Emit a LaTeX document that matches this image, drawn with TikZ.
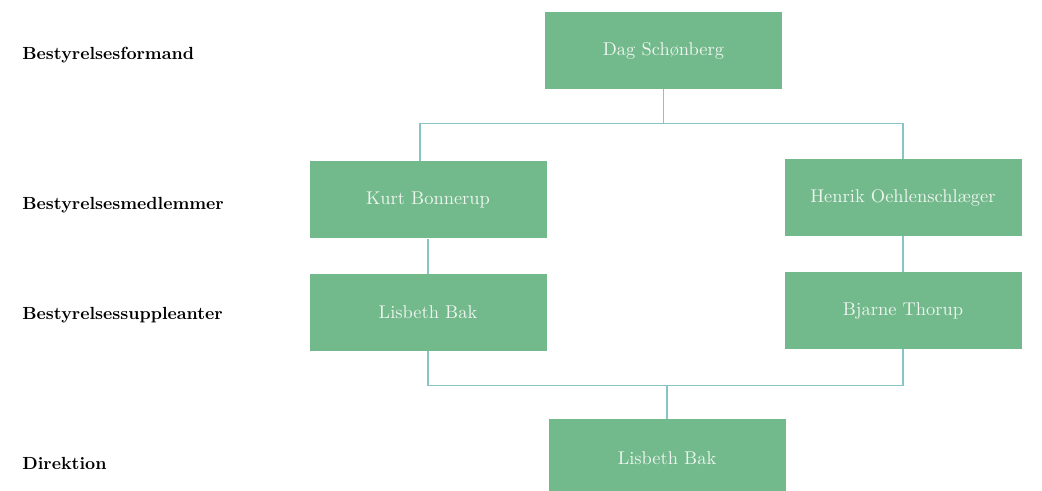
\documentclass[tikz,border=0pt]{standalone}
\usepackage{xcolor}
\definecolor{boardgreen}{HTML}{72B98C}
\definecolor{linkteal}{HTML}{86C4C6}
\definecolor{nametext}{HTML}{EEF5EF}
\begin{document}
\begin{tikzpicture}[
    member/.style={fill=boardgreen, draw=none, minimum width=4.74cm, minimum height=1.54cm,
        text=nametext, font=\fontsize{10.5}{12}\selectfont},
    rolelabel/.style={anchor=west, inner sep=0pt, font=\fontsize{10}{12}\selectfont\bfseries},
    link/.style={draw=linkteal, line width=.7pt}]
    
    \useasboundingbox (0,0) rectangle (20.84,9.82);
    
    \node[rolelabel] (formand) at (0.44,8.72) {Bestyrelsesformand};
    \node[rolelabel] (medlem) at (0.44,5.72) {Bestyrelsesmedlemmer};
    \node[rolelabel] (suppl) at (0.44,3.52) {Bestyrelsessuppleanter};
    \node[rolelabel] (direk) at (0.44,0.56) {Direktion};
    
    \node[member] (dag) at (13.27,8.81) {Dag Schønberg};
    \node[member] (kurt) at (8.56,5.82) {Kurt Bonnerup};
    \node[member] (henrik) at (18.06,5.87) {Henrik Oehlenschlæger};
    \node[member] (lisbeth) at (8.56,3.57) {Lisbeth Bak};
    \node[member] (bjarne) at (18.06,3.61) {Bjarne Thorup};
    \node[member] (direktor) at (13.34,0.66) {Lisbeth Bak};
    
    \draw[link] (dag.south) -- ++(0,-0.68) coordinate (split);
    \draw[link] ([xshift=-0.16cm]kurt.north) |- (split) -| (henrik.north);
    \draw[link] (kurt.south) -- (lisbeth.north);
    \draw[link] (henrik.south) -- (bjarne.north);
    \draw[link] (direktor.north) -- ++(0,0.67) coordinate (join);
    \draw[link] (lisbeth.south) |- (join) -| (bjarne.south);
    
\end{tikzpicture}
\end{document}
